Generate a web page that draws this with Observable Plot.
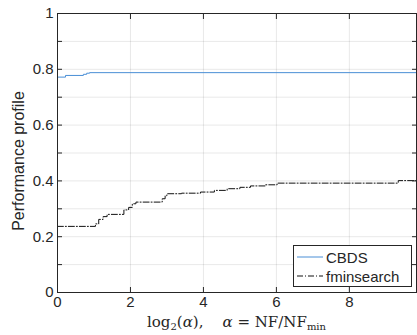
<!DOCTYPE html>
<html>
<head>
<meta charset="utf-8">
<script src="https://cdn.jsdelivr.net/npm/d3@7"></script>
<script src="https://cdn.jsdelivr.net/npm/@observablehq/plot@0.6"></script>
<style>
  body { margin: 0; background: #fff; }
  #wrap { position: relative; width: 417px; height: 335px; font-family: "Liberation Sans", Arial, sans-serif; color: #262626; }
  #wrap svg { display: block; }
  #caption { position: absolute; left: 57px; width: 359px; top: 312px; text-align: center; font-family: "DejaVu Serif", "Liberation Serif", serif; font-size: 15px; line-height: 20px; color: #262626; white-space: pre; }
  #caption sub { font-size: 10px; vertical-align: -3px; line-height: 0; }
  #legend { position: absolute; left: 293px; top: 245px; width: 117px; height: 40px; border: 1px solid #262626; background: #fff; font-size: 15px; }
  .li { position: absolute; left: 3px; height: 18px; display: flex; align-items: center; }
  .li svg { margin-right: 3px; }
</style>
</head>
<body>
<div id="wrap"></div>
<script>
// ---- data ----
const seriesNames = ["CBDS", "fminsearch"];
const seriesColors = ["#4a8fd6", "#111111"];

const cbdsX = [0, 0, 0.22, 0.71, 0.80, 0.88, 9.84];
const cbdsY = [0, 0.772, 0.778, 0.782, 0.786, 0.788, 0.788];

const fminX = [0, 0, 1.04, 1.13, 1.25, 1.36, 1.82, 1.95, 2.05, 2.15, 2.87, 2.95, 3.00, 3.40, 3.92, 4.30, 4.65, 5.00, 5.29, 5.70, 6.02, 9.34, 9.84];
const fminY = [0, 0.237, 0.246, 0.262, 0.272, 0.280, 0.296, 0.305, 0.318, 0.324, 0.336, 0.347, 0.354, 0.356, 0.360, 0.366, 0.372, 0.377, 0.382, 0.386, 0.392, 0.401, 0.401];

const xTicks = [0, 2, 4, 6, 8];
const yTicks = [0, 0.1, 0.2, 0.3, 0.4, 0.5, 0.6, 0.7, 0.8, 0.9, 1];
const yLabelTicks = [0, 0.2, 0.4, 0.6, 0.8, 1];
const xDomain = [0, 9.84];
const yDomain = [0, 1];
const yTitle = "Performance profile";

const cbds = cbdsX.map((x, i) => ({x, y: cbdsY[i]}));
const fmin = fminX.map((x, i) => ({x, y: fminY[i]}));

const fmtY = d => yLabelTicks.some(t => Math.abs(t - d) < 1e-9) ? String(+d.toFixed(1)) : "";

const axisColor = "#262626";

const chart = Plot.plot({
  width: 417,
  height: 312,
  marginLeft: 57,
  marginRight: 1,
  marginTop: 13,
  marginBottom: 20,
  style: { fontFamily: "Liberation Sans, Arial, sans-serif", fontSize: "15px", color: axisColor, background: "#fff" },
  x: { domain: xDomain },
  y: { domain: yDomain },
  marks: [
    Plot.gridX(xTicks, { stroke: "#000", strokeOpacity: 0.09 }),
    Plot.gridY(yTicks, { stroke: "#000", strokeOpacity: 0.09 }),
    Plot.line(fmin, { x: "x", y: "y", curve: "step-after", stroke: seriesColors[1], strokeWidth: 1, strokeDasharray: "6,2,1,2" }),
    Plot.line(cbds, { x: "x", y: "y", curve: "step-after", stroke: seriesColors[0], strokeWidth: 1 }),
    Plot.frame({ stroke: axisColor, strokeWidth: 1 }),
    Plot.axisY(yTicks, { anchor: "left", tickSize: -5, tickPadding: 9, tickFormat: fmtY, fontSize: 15, label: null, stroke: axisColor }),
    Plot.text([yTitle], { text: d => d, frameAnchor: "left", textAnchor: "middle", rotate: -90, dx: -39, dy: 8, fontSize: 16, fill: axisColor }),
    Plot.axisY(yTicks, { anchor: "right", tickSize: -5, tickFormat: () => "", label: null, stroke: axisColor }),
    Plot.axisX(xTicks, { anchor: "bottom", tickSize: -5, tickPadding: 9, tickFormat: d => String(d), fontSize: 15, label: null, stroke: axisColor }),
    Plot.axisX(xTicks, { anchor: "top", tickSize: -5, tickFormat: () => "", label: null, stroke: axisColor })
  ]
});

const wrap = document.getElementById("wrap");
wrap.appendChild(chart);

// legend
const legend = document.createElement("div");
legend.id = "legend";
const dashes = [null, "6,2,1,2"];
seriesNames.forEach((name, i) => {
  const row = document.createElement("div");
  row.className = "li";
  row.style.top = (i === 0 ? 2 : 21) + "px";
  row.innerHTML = `<svg width="26" height="10"><line x1="0" y1="5" x2="26" y2="5" stroke="${seriesColors[i]}" stroke-width="1" ${dashes[i] ? `stroke-dasharray="${dashes[i]}"` : ""}/></svg><span>${name}</span>`;
  legend.appendChild(row);
});
wrap.appendChild(legend);

// x label (caption)
const cap = document.createElement("div");
cap.id = "caption";
cap.innerHTML = "log<sub>2</sub>(<i>α</i>),    <i>α</i> = NF/NF<sub>min</sub>";
wrap.appendChild(cap);
</script>
</body>
</html>
